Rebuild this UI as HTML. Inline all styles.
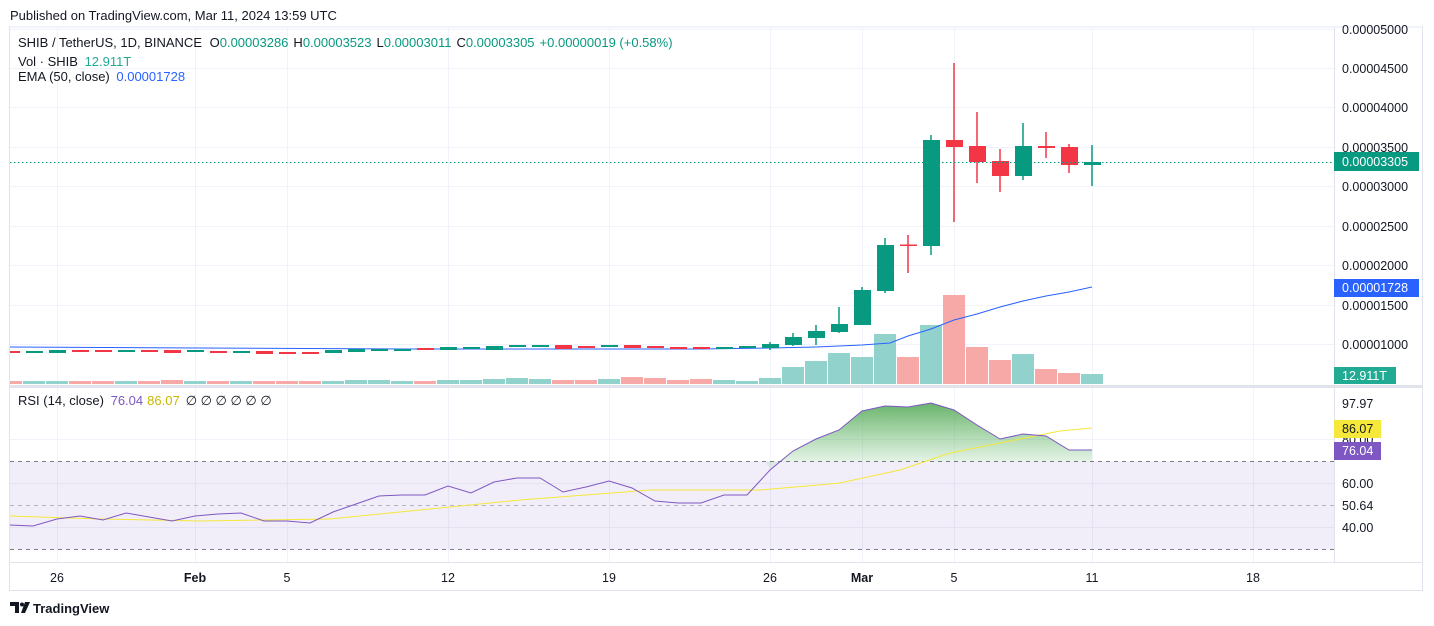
<!DOCTYPE html>
<html><head><meta charset="utf-8"><style>
body{margin:0;background:#fff;font-family:"Liberation Sans",sans-serif;}
svg{display:block}
</style></head><body>
<svg width="1434" height="626" viewBox="0 0 1434 626" xmlns="http://www.w3.org/2000/svg" font-family="Liberation Sans, sans-serif">
<defs>
<clipPath id="cp"><rect x="10" y="28" width="1324" height="357"/></clipPath>
<linearGradient id="gf" x1="0" y1="0" x2="0" y2="1"><stop offset="0" stop-color="#43a047" stop-opacity="0.8"/><stop offset="1" stop-color="#4caf50" stop-opacity="0.05"/></linearGradient>
</defs>
<rect width="1434" height="626" fill="#fff"/>
<text x="10" y="20" font-size="13" fill="#131722">Published on TradingView.com, Mar 11, 2024 13:59 UTC</text>
<rect x="9.5" y="26.5" width="1413" height="564" fill="none" stroke="#e0e3eb"/>
<rect x="10" y="26" width="1412" height="2" fill="#f0f3fa"/>
<g stroke="#f0f3fa" stroke-width="1">
<line x1="10" y1="29.5" x2="1334" y2="29.5"/><line x1="10" y1="68.5" x2="1334" y2="68.5"/><line x1="10" y1="107.5" x2="1334" y2="107.5"/><line x1="10" y1="147.5" x2="1334" y2="147.5"/><line x1="10" y1="186.5" x2="1334" y2="186.5"/><line x1="10" y1="226.5" x2="1334" y2="226.5"/><line x1="10" y1="265.5" x2="1334" y2="265.5"/><line x1="10" y1="305.5" x2="1334" y2="305.5"/><line x1="10" y1="344.5" x2="1334" y2="344.5"/>
<line x1="10" y1="483.5" x2="1334" y2="483.5"/><line x1="10" y1="527.5" x2="1334" y2="527.5"/><line x1="10" y1="439.5" x2="1334" y2="439.5"/>
<line x1="57.5" y1="28" x2="57.5" y2="562"/><line x1="195.5" y1="28" x2="195.5" y2="562"/><line x1="287.5" y1="28" x2="287.5" y2="562"/><line x1="448.5" y1="28" x2="448.5" y2="562"/><line x1="609.5" y1="28" x2="609.5" y2="562"/><line x1="770.5" y1="28" x2="770.5" y2="562"/><line x1="862.5" y1="28" x2="862.5" y2="562"/><line x1="954.5" y1="28" x2="954.5" y2="562"/><line x1="1092.5" y1="28" x2="1092.5" y2="562"/><line x1="1253.5" y1="28" x2="1253.5" y2="562"/>
</g>
<line x1="10" y1="386.5" x2="1422" y2="386.5" stroke="#e0e3eb" stroke-width="3"/>
<line x1="1334.5" y1="28" x2="1334.5" y2="562" stroke="#e0e3eb"/>
<line x1="10" y1="562.5" x2="1422" y2="562.5" stroke="#e0e3eb"/>
<g clip-path="url(#cp)">
<g fill="#92d2cc">
<rect x="0" y="381" width="22" height="3" fill="#f7a9a7"/><rect x="23" y="381" width="22" height="3"/><rect x="46" y="381" width="22" height="3"/><rect x="69" y="381" width="22" height="3" fill="#f7a9a7"/><rect x="92" y="381" width="22" height="3" fill="#f7a9a7"/><rect x="115" y="381" width="22" height="3"/><rect x="138" y="381" width="22" height="3" fill="#f7a9a7"/><rect x="161" y="380" width="22" height="4" fill="#f7a9a7"/><rect x="184" y="381" width="22" height="3"/><rect x="207" y="381" width="22" height="3" fill="#f7a9a7"/><rect x="230" y="381" width="22" height="3"/><rect x="253" y="381" width="22" height="3" fill="#f7a9a7"/><rect x="276" y="381" width="22" height="3" fill="#f7a9a7"/><rect x="299" y="381" width="22" height="3" fill="#f7a9a7"/><rect x="322" y="381" width="22" height="3"/><rect x="345" y="380" width="22" height="4"/><rect x="368" y="380" width="22" height="4"/><rect x="391" y="381" width="22" height="3"/><rect x="414" y="381" width="22" height="3" fill="#f7a9a7"/><rect x="437" y="380" width="22" height="4"/><rect x="460" y="380" width="22" height="4"/><rect x="483" y="379" width="22" height="5"/><rect x="506" y="378" width="22" height="6"/><rect x="529" y="379" width="22" height="5"/><rect x="552" y="380" width="22" height="4" fill="#f7a9a7"/><rect x="575" y="380" width="22" height="4" fill="#f7a9a7"/><rect x="598" y="379" width="22" height="5"/><rect x="621" y="377" width="22" height="7" fill="#f7a9a7"/><rect x="644" y="378" width="22" height="6" fill="#f7a9a7"/><rect x="667" y="380" width="22" height="4" fill="#f7a9a7"/><rect x="690" y="379" width="22" height="5" fill="#f7a9a7"/><rect x="713" y="380" width="22" height="4"/><rect x="736" y="381" width="22" height="3"/>
<rect x="759" y="378" width="22" height="6"/><rect x="782" y="367" width="22" height="17"/><rect x="805" y="361" width="22" height="23"/><rect x="828" y="353" width="22" height="31"/><rect x="851" y="357" width="22" height="27"/><rect x="874" y="334" width="22" height="50"/><rect x="897" y="357" width="22" height="27" fill="#f7a9a7"/><rect x="920" y="325" width="22" height="59"/><rect x="943" y="295" width="22" height="89" fill="#f7a9a7"/><rect x="966" y="347" width="22" height="37" fill="#f7a9a7"/><rect x="989" y="360" width="22" height="24" fill="#f7a9a7"/><rect x="1012" y="354" width="22" height="30"/><rect x="1035" y="369" width="22" height="15" fill="#f7a9a7"/><rect x="1058" y="373" width="22" height="11" fill="#f7a9a7"/><rect x="1081" y="374" width="22" height="10"/>
</g>
<polyline fill="none" stroke="#2962ff" stroke-width="1" points="10,347 200,348 400,349 600,349 700,349 770,348 816,347 862,345 890,343 908,336 931,329 954,320 977,314 1000,307 1023,301 1046,296 1069,292 1092,287"/>
<g>
<rect x="3" y="351" width="17" height="2" fill="#f23645"/><rect x="26" y="351" width="17" height="2" fill="#089981"/><rect x="49" y="350" width="17" height="3" fill="#089981"/><rect x="72" y="350" width="17" height="2" fill="#f23645"/><rect x="95" y="350" width="17" height="2" fill="#f23645"/><rect x="118" y="350" width="17" height="2" fill="#089981"/><rect x="141" y="350" width="17" height="2" fill="#f23645"/><rect x="164" y="350" width="17" height="3" fill="#f23645"/><rect x="187" y="350" width="17" height="2" fill="#089981"/><rect x="210" y="351" width="17" height="2" fill="#f23645"/><rect x="233" y="351" width="17" height="2" fill="#089981"/><rect x="256" y="351" width="17" height="3" fill="#f23645"/><rect x="279" y="352" width="17" height="2" fill="#f23645"/><rect x="302" y="352" width="17" height="2" fill="#f23645"/><rect x="325" y="350" width="17" height="3" fill="#089981"/><rect x="348" y="349" width="17" height="3" fill="#089981"/><rect x="371" y="349" width="17" height="2" fill="#089981"/><rect x="394" y="349" width="17" height="2" fill="#089981"/><rect x="417" y="348" width="17" height="2" fill="#f23645"/><rect x="440" y="347" width="17" height="3" fill="#089981"/><rect x="463" y="347" width="17" height="2" fill="#089981"/><rect x="486" y="346" width="17" height="4" fill="#089981"/><rect x="509" y="345" width="17" height="2" fill="#089981"/><rect x="532" y="345" width="17" height="2" fill="#089981"/><rect x="555" y="345" width="17" height="4" fill="#f23645"/><rect x="578" y="346" width="17" height="2" fill="#f23645"/><rect x="601" y="345" width="17" height="2" fill="#089981"/><rect x="624" y="345" width="17" height="3" fill="#f23645"/><rect x="647" y="346" width="17" height="2" fill="#f23645"/><rect x="670" y="347" width="17" height="2" fill="#f23645"/><rect x="693" y="347" width="17" height="2" fill="#f23645"/><rect x="716" y="347" width="17" height="2" fill="#089981"/><rect x="739" y="346" width="17" height="2" fill="#089981"/>
</g>
</g>
<g stroke-width="1.5">
<line x1="770" y1="342" x2="770" y2="350" stroke="#089981"/><rect x="762" y="344" width="17" height="4" fill="#089981"/>
<line x1="793" y1="333" x2="793" y2="346" stroke="#089981"/><rect x="785" y="337" width="17" height="8" fill="#089981"/>
<line x1="816" y1="325" x2="816" y2="345" stroke="#089981"/><rect x="808" y="331" width="17" height="7" fill="#089981"/>
<line x1="839" y1="307" x2="839" y2="333" stroke="#089981"/><rect x="831" y="324" width="17" height="8" fill="#089981"/>
<line x1="862" y1="287" x2="862" y2="325" stroke="#089981"/><rect x="854" y="290" width="17" height="35" fill="#089981"/>
<line x1="885" y1="238" x2="885" y2="293" stroke="#089981"/><rect x="877" y="245" width="17" height="46" fill="#089981"/>
<line x1="908" y1="235" x2="908" y2="273" stroke="#f23645"/><rect x="900" y="244.5" width="17" height="1.5" fill="#f23645"/>
<line x1="931" y1="135" x2="931" y2="255" stroke="#089981"/><rect x="923" y="140" width="17" height="106" fill="#089981"/>
<line x1="954" y1="63" x2="954" y2="222" stroke="#f23645"/><rect x="946" y="140" width="17" height="7" fill="#f23645"/>
<line x1="977" y1="112" x2="977" y2="183" stroke="#f23645"/><rect x="969" y="146" width="17" height="16" fill="#f23645"/>
<line x1="1000" y1="149" x2="1000" y2="192" stroke="#f23645"/><rect x="992" y="161" width="17" height="15" fill="#f23645"/>
<line x1="1023" y1="123" x2="1023" y2="180" stroke="#089981"/><rect x="1015" y="146" width="17" height="30" fill="#089981"/>
<line x1="1046" y1="132" x2="1046" y2="158" stroke="#f23645"/><rect x="1038" y="146" width="17" height="2" fill="#f23645"/>
<line x1="1069" y1="144" x2="1069" y2="173" stroke="#f23645"/><rect x="1061" y="147" width="17" height="18" fill="#f23645"/>
<line x1="1092" y1="145" x2="1092" y2="186" stroke="#089981"/><rect x="1084" y="162" width="17" height="3" fill="#089981"/>
</g>
<line x1="10" y1="162.5" x2="1334" y2="162.5" stroke="#089981" stroke-dasharray="1.5,2.5"/>
<rect x="10" y="461.5" width="1324" height="88" fill="#7e57c2" fill-opacity="0.1"/>
<g stroke="#787b86" stroke-dasharray="4,4"><line x1="10" y1="461.5" x2="1334" y2="461.5"/><line x1="10" y1="549.5" x2="1334" y2="549.5"/></g>
<line x1="10" y1="505.5" x2="1334" y2="505.5" stroke="#b2b5be" stroke-dasharray="4,4"/>
<polygon fill="url(#gf)" points="766,461.5 770,470 793,451 816,439 839,430 862,411 885,406 908,407 931,403 954,410 977,425 1000,439 1023,434 1046,436 1069,450 1092,450 1092,461.5"/>
<polyline fill="none" stroke="#f5e83a" stroke-width="1" points="10,516 100,519 200,521 330,519 420,510 520,500 650,490 760,490 840,483 900,470 950,453 1030,437 1060,431 1092,428"/>
<polyline fill="none" stroke="#7e57c2" stroke-width="1" points="10,525 33,526 57,519 80,516 103,520 126,513 149,517 172,521 195,516 218,514 241,513 264,521 287,521 310,523 333,512 356,504 379,496 402,495 425,495 448,486 471,493 494,482 517,478 540,478 563,492 586,487 609,481 632,488 655,501 678,503 701,503 724,495 747,495 770,470 793,451 816,439 839,430 862,411 885,406 908,407 931,403 954,410 977,425 1000,439 1023,434 1046,436 1069,450 1092,450"/>
<g font-size="13" fill="#131722">
<text x="18" y="47">SHIB / TetherUS, 1D, BINANCE <tspan dx="4">O</tspan><tspan fill="#089981">0.00003286</tspan><tspan dx="5">H</tspan><tspan fill="#089981">0.00003523</tspan><tspan dx="5">L</tspan><tspan fill="#089981">0.00003011</tspan><tspan dx="5">C</tspan><tspan fill="#089981">0.00003305</tspan><tspan dx="5" fill="#089981">+0.00000019 (+0.58%)</tspan></text>
<text x="18" y="66">Vol · SHIB <tspan dx="3" fill="#22ab94">12.911T</tspan></text>
<text x="18" y="81">EMA (50, close) <tspan dx="3" fill="#2962ff">0.00001728</tspan></text>
<text x="18" y="405">RSI (14, close) <tspan dx="3" fill="#7e57c2">76.04</tspan><tspan dx="4" fill="#c9b800">86.07</tspan><tspan dx="6" fill="#131722">∅ ∅ ∅ ∅ ∅ ∅</tspan></text>
</g>
<g font-size="12.5" fill="#131722">
<text x="1342" y="34">0.00005000</text><text x="1342" y="73">0.00004500</text><text x="1342" y="112">0.00004000</text><text x="1342" y="152">0.00003500</text><text x="1342" y="191">0.00003000</text><text x="1342" y="231">0.00002500</text><text x="1342" y="270">0.00002000</text><text x="1342" y="310">0.00001500</text><text x="1342" y="349">0.00001000</text>
<text x="1342" y="408">97.97</text><text x="1342" y="444">80.00</text><text x="1342" y="488">60.00</text><text x="1342" y="510">50.64</text><text x="1342" y="532">40.00</text>
</g>
<rect x="1334" y="152" width="85" height="19" fill="#089981"/><text x="1342" y="166" font-size="12.5" fill="#fff">0.00003305</text>
<rect x="1334" y="279" width="85" height="18" fill="#2962ff"/><text x="1342" y="292" font-size="12.5" fill="#fff">0.00001728</text>
<rect x="1334" y="367" width="62" height="17" fill="#22ab94"/><text x="1342" y="380" font-size="12.5" fill="#fff">12.911T</text>
<rect x="1334" y="420" width="47" height="18" fill="#f5e83a"/><text x="1342" y="433" font-size="12.5" fill="#131722">86.07</text>
<rect x="1334" y="442" width="47" height="18" fill="#7e57c2"/><text x="1342" y="455" font-size="12.5" fill="#fff">76.04</text>
<g font-size="12.5" fill="#131722" text-anchor="middle">
<text x="57" y="582">26</text><text x="195" y="582" font-weight="bold">Feb</text><text x="287" y="582">5</text><text x="448" y="582">12</text><text x="609" y="582">19</text><text x="770" y="582">26</text><text x="862" y="582" font-weight="bold">Mar</text><text x="954" y="582">5</text><text x="1092" y="582">11</text><text x="1253" y="582">18</text>
</g>
<g fill="#131722"><path d="M10 602h9v11h-4v-7h-5z"/><circle cx="22" cy="604.5" r="2"/><path d="M25 602h5l-5 11h-4z"/></g>
<text x="33" y="613" font-size="13" font-weight="bold" fill="#131722">TradingView</text>
</svg>
</body></html>
